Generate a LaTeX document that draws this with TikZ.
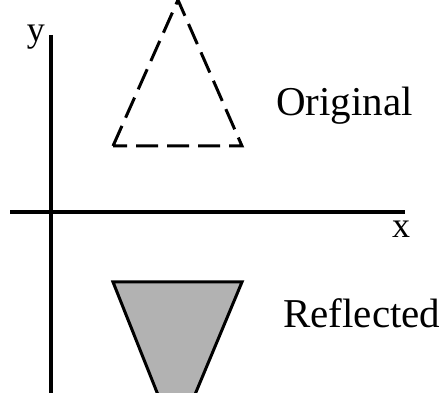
\documentclass[tikz,border=0pt]{standalone}
\usepackage{fontspec}
\setmainfont{Liberation Serif}
\usepackage{tikz}
\usetikzlibrary{calc}
\definecolor{rfGray}{RGB}{178,178,178}
\definecolor{rfLine}{RGB}{0,0,0}

\begin{document}
\begin{tikzpicture}[
  x=1pt, y=-1pt,
  axis/.style={draw=rfLine, line width=3.5pt},
  orig/.style={draw=rfLine, line width=3pt, dash pattern=on 22pt off 9pt},
  refl/.style={draw=rfLine, line width=3pt, fill=rfGray, line join=miter},
  lbl/.style={inner sep=0pt, font=\fontsize{41}{45}\selectfont},
  axlbl/.style={inner sep=0pt, font=\fontsize{36}{40}\selectfont}
]
\useasboundingbox (0,0) rectangle (440,393);
\clip (0,0) rectangle (440,393);
% axes
\coordinate (ytop) at (51,35);
\coordinate (ybot) at (51,400);
\coordinate (xleft) at (10,212);
\coordinate (xright) at (405,212);
\draw[axis] (ytop) -- (ybot);
\draw[axis] (xleft) -- (xright);
\node[axlbl] (ylab) at (36,37) {y};
\node[axlbl] (xlab) at (401,229) {x};
% original
\coordinate (oA) at (178,0);
\coordinate (oL) at (113,146);
\coordinate (oR) at (242,146);
\draw[orig] (oL) -- (oA) -- (oR) -- (oL);
\node[lbl, anchor=west] (original) at (276,106) {Original};
% reflected
\coordinate (rL) at (113,282);
\coordinate (rR) at (242,282);
\coordinate (rA) at (176,440);
\draw[refl] (rL) -- (rR) -- (rA) -- cycle;
\node[lbl, anchor=west] (reflected) at (283,313) {Reflected};
\end{tikzpicture}
\end{document}
